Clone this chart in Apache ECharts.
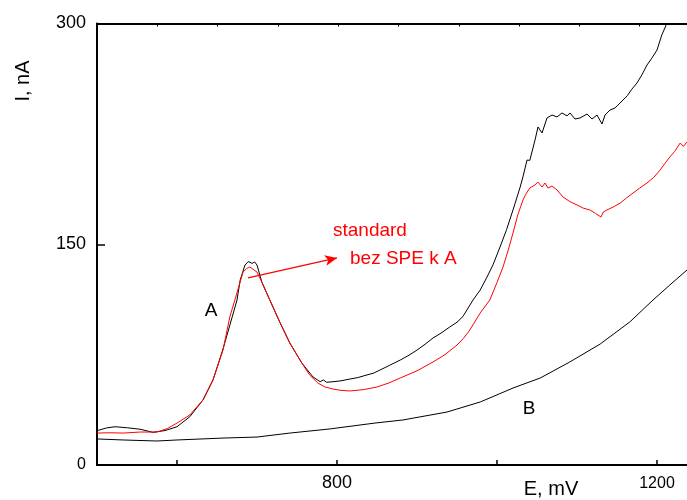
<!DOCTYPE html>
<html>
<head>
<meta charset="utf-8">
<script src="https://cdn.jsdelivr.net/npm/echarts@6/dist/echarts.min.js"></script>
<style>
html,body{margin:0;padding:0;background:#fff;}
#c{width:687px;height:500px;}
</style>
</head>
<body>
<div id="c"></div>
<script>
// E (mV), I (nA)
const curveA = [
  [500,23.3],[512,25.2],[522.5,26.0],[538,25.3],[553.75,24.3],[570,22.2],[585,23.4],[600,26.0],[616,32.8],[632.5,44.2],
  [645,57.8],[657.5,78.8],[669,100.6],[675,112.1],[679,125.7],[685,135.9],[689,138.2],[691,138.6],[694,137.0],[697,138.0],
  [700,135.9],[706,124.3],[716,112.1],[729,96.5],[741,82.9],[756,69.3],[770,59.8],[779,56.6],[783,57.8],[787,56.2],
  [795,56.6],[805,57.2],[816,58.4],[826,59.4],[837.5,61.2],[846,62.5],[854,64.6],[866,67.8],[879,71.3],[890,74.6],
  [900,78.1],[910,82.0],[920,86.3],[930,89.6],[941,93.8],[950,97.0],[957.5,101.0],[970,112.1],[979,118.9],
  [987.5,127.7],[995,136.0],[1003.75,148.1],[1012,160.0],[1020,173.3],[1029,188.9],[1033,197.0],[1037.5,207.2],[1041,207.0],[1047.5,220.8],
  [1051.25,229.7],[1056.25,225.6],[1062.5,235.8],[1068.75,237.8],[1075,236.5],[1081.25,239.2],[1087.5,237.2],[1091.25,239.2],[1097.5,235.1],[1103.75,235.8],
  [1112.5,238.5],[1118.75,235.1],[1125,237.8],[1131.25,231.7],[1135,237.8],[1141.25,241.2],[1147.5,242.6],[1153.75,246.0],[1157.5,248.0],[1163,251.0],
  [1168,255.0],[1175,259.6],[1181,265.0],[1187.5,271.8],[1193,276.0],[1200,282.0],[1206,292.2],[1212.5,300.3],[1222.5,309.0]
];
const curveRed = [
  [500,21.7],[516,21.9],[532.5,21.7],[554,22.4],[575,22.4],[588,24.8],[600,28.5],[616,34.0],[632.5,44.2],[645,57.8],
  [657.5,78.1],[666,100.6],[676,118.9],[682.5,131.1],[687,133.5],[691,134.5],[695,133.0],[700,131.1],[706,124.3],[716,112.1],
  [729,96.5],[741,82.9],[756,69.3],[766,61.0],[776,55.7],[785,53.0],[795,51.6],[805,50.7],[816,50.3],[833,51.2],
  [850,53.0],[865,55.8],[879,59.1],[900,64.0],[920,70.0],[935,75.0],[950,81.5],[958,86.0],[966,91.7],[979,103.3],
  [991,112.1],[1000,124.0],[1007.5,134.5],[1014,146.0],[1020,157.6],[1026,170.0],[1032.5,180.1],[1036,184.0],[1041,188.2],[1047.5,190.3],
  [1051,192.3],[1056.25,188.9],[1060,191.6],[1063.75,188.2],[1068.75,189.6],[1075,186.9],[1082.5,182.1],[1091,179.0],[1100,176.7],[1108,174.5],
  [1116,173.3],[1123,171.0],[1130,168.5],[1133,172.0],[1137.5,173.3],[1146,175.5],[1154,178.0],[1162,181.5],[1170,184.8],[1178,188.0],
  [1187.5,191.6],[1196,195.5],[1204,200.5],[1210,205.0],[1216,209.3],[1222,213.0],[1229,218.8],[1233,216.5],[1237.5,219.5]
];
const curveB = [
  [500,17.7],[532.5,17.0],[575,16.3],[600,17.0],[657.5,18.3],[700,19.0],[741,21.7],[791,24.5],[847.5,28.5],[882.5,30.6],
  [937.5,36.0],[979,42.8],[1020,52.3],[1054,59.1],[1091,70.0],[1129,82.2],[1166,97.2],[1195,112.1],[1216,122.3],[1237.5,132.5]
];
const xTicks = [600, 800, 1000, 1200];
const xLabels = [800, 1200];
const yTicks = [0, 150, 300];
const arrowFrom = [688.75, 127.1];
const arrowTo = [800, 140.7];

const FONT = '"Liberation Sans", Arial, sans-serif';
const chart = echarts.init(document.getElementById('c'), null, {renderer: 'canvas'});
chart.setOption({
  animation: false,
  backgroundColor: '#fff',
  grid: {left: 97, top: 23.5, right: 0, bottom: 35},
  xAxis: [{
    type: 'value', min: 500, max: 1237.5,
    axisLine: {show: true, onZero: false, lineStyle: {color: '#000', width: 2}},
    axisTick: {show: true, inside: true, length: 5, customValues: xTicks, lineStyle: {color: '#000', width: 1.5}},
    axisLabel: {customValues: xLabels, color: '#000', fontFamily: FONT, margin: 9,
      formatter: v => v === 1200 ? '{s|' + v + '}' : '{b|' + v + '}',
      rich: {b: {fontSize: 18, fontFamily: FONT, color: '#000'}, s: {fontSize: 16, fontFamily: FONT, color: '#000', padding: [2, 0, 0, 0]}}},
    splitLine: {show: false}
  }, {
    type: 'value', position: 'top', min: 0, max: 9.784, interval: 1,
    axisLine: {show: true, onZero: false, lineStyle: {color: '#000', width: 2}},
    axisTick: {show: true, inside: true, length: 3, lineStyle: {color: '#000', width: 1}},
    axisLabel: {show: false}, splitLine: {show: false}
  }],
  yAxis: {
    type: 'value', min: 0, max: 300, interval: 150,
    axisLine: {show: true, onZero: false, lineStyle: {color: '#000', width: 2}},
    axisTick: {show: true, inside: true, length: 8, lineStyle: {color: '#000', width: 1.5}},
    axisLabel: {color: '#000', fontFamily: FONT, margin: 11,
      formatter: v => v === 0 ? '{s|0}' : '{b|' + v + '}',
      rich: {b: {fontSize: 18, fontFamily: FONT, color: '#000'}, s: {fontSize: 16, fontFamily: FONT, color: '#000'}}},
    splitLine: {show: false}
  },
  series: [
    {type: 'line', data: curveB, xAxisIndex: 0, showSymbol: false, symbol: 'none', clip: true,
      lineStyle: {color: '#000', width: 1}},
    {type: 'line', data: curveA, xAxisIndex: 0, showSymbol: false, symbol: 'none', clip: true,
      lineStyle: {color: '#000', width: 1}},
    {type: 'line', data: curveRed, xAxisIndex: 0, showSymbol: false, symbol: 'none', clip: true,
      lineStyle: {color: '#ff0000', width: 1},
      markLine: {silent: true, symbol: ['none', 'arrow'], symbolSize: [8, 12], label: {show: false},
        lineStyle: {color: '#ff0000', width: 1.2, type: 'solid'},
        data: [[{coord: arrowFrom}, {coord: arrowTo}]]}}
  ],
  graphic: [
    {type: 'text', x: 23, y: 81, rotation: Math.PI / 2, style: {text: 'I, nA', fontSize: 20, fontFamily: FONT, fill: '#000', align: 'center', verticalAlign: 'middle'}},
    {type: 'text', x: 551, y: 489, style: {text: 'E, mV', fontSize: 20, fontFamily: FONT, fill: '#000', align: 'center', verticalAlign: 'middle'}},
    {type: 'text', x: 211, y: 311, style: {text: 'A', fontSize: 19, fontFamily: FONT, fill: '#000', align: 'center', verticalAlign: 'middle'}},
    {type: 'text', x: 529, y: 409, style: {text: 'B', fontSize: 19, fontFamily: FONT, fill: '#000', align: 'center', verticalAlign: 'middle'}},
    {type: 'text', x: 333, y: 231, style: {text: 'standard', fontSize: 19, fontFamily: FONT, fill: '#ff0000', align: 'left', verticalAlign: 'middle'}},
    {type: 'text', x: 350, y: 259, style: {text: 'bez SPE k A', fontSize: 19, fontFamily: FONT, fill: '#ff0000', align: 'left', verticalAlign: 'middle'}}
  ]
});
</script>
</body>
</html>
